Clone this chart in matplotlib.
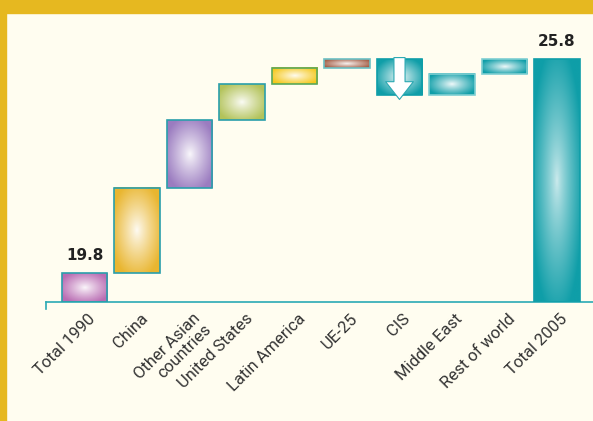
import numpy as np
import matplotlib
matplotlib.use("Agg")
import matplotlib.pyplot as plt
import matplotlib.colors as mcolors
import matplotlib.transforms as mtransforms
from matplotlib.patches import Rectangle

# waterfall data
labels = ["Total 1990", "China", "Other Asian\ncountries", "United States",
          "Latin America", "UE-25", "CIS", "Middle East", "Rest of world",
          "Total 2005"]
start_total = 19.8
changes = [2.4, 1.9, 1.0, 0.45, 0.25, -1.0, 0.6, 0.4]
end_total = 25.8
base = 19.0

colors = ["#b96cb3", "#e9b630", "#9b7cc0", "#b3c35a", "#f5c81c", "#a55f48",
          "#0f9ea8", "#0f9ea8", "#0f9ea8", "#0f9ea8"]
edges = ["#2a9fab", "#2a9fab", "#2a9fab", "#2a9fab", "#5aa85a", "#6cc0c4",
         "#0f9ea8", "#7fcfd2", "#7fcfd2", "#0f9ea8"]
teal = "#2aaab4"
bg = "#fffdf0"
gold = "#e6b820"

# bottoms and tops for each bar
bottoms = [base]
tops = [start_total]
level = start_total
for c in changes:
    bottoms.append(min(level, level + c))
    tops.append(max(level, level + c))
    level += c
bottoms.append(base)
tops.append(end_total)

fig = plt.figure(figsize=(5.93, 4.21), dpi=100)
fig.patch.set_facecolor(bg)
fig.patches.append(Rectangle((0, 1 - 13 / 421), 1, 13 / 421, transform=fig.transFigure,
                             color=gold, zorder=0))
fig.patches.append(Rectangle((0, 0), 6 / 593, 1, transform=fig.transFigure,
                             color=gold, zorder=0))

ax = fig.add_axes([46 / 593, (421 - 302) / 421, (593 - 46) / 593, (302 - 13) / 421])
ax.set_facecolor("none")
px = 52.5
ax.set_xlim(-(84.5 - 46) / px, (593 - 84.5) / px)
ax.set_ylim(base, base + (302 - 13) / 35.67)
for s in ["top", "left", "right"]:
    ax.spines[s].set_visible(False)
ax.spines["bottom"].set_color(teal)
ax.spines["bottom"].set_linewidth(1.2)
ax.set_xticks([])
ax.set_yticks([])
# little tick at the left end of the axis
ax.plot([0, 0], [0, -0.025], color=teal, lw=1.2, transform=ax.transAxes, clip_on=False)

# radial gradient template
n = 200
gx, gy = np.meshgrid(np.linspace(-1, 1, n), np.linspace(-1, 1, n))
r = np.clip(np.sqrt(gx ** 2 + gy ** 2) / 1.15, 0, 1)
t = 0.05 + 0.95 * r ** 0.9

w = 0.86
for i in range(len(labels)):
    rgb = np.array(mcolors.to_rgb(colors[i]))
    tt = t if i < 9 else 0.2 + 0.8 * r ** 0.8
    img = (1 - tt)[..., None] * np.ones(3) + tt[..., None] * rgb
    ax.imshow(img, extent=(i - w / 2, i + w / 2, bottoms[i], tops[i]),
              aspect="auto", interpolation="bilinear", zorder=2)
    ax.add_patch(Rectangle((i - w / 2, bottoms[i]), w, tops[i] - bottoms[i],
                           fill=False, ec=edges[i], lw=1.2, zorder=3))

# arrow on CIS bar
ci = 6
ax.annotate("", xy=(ci, bottoms[ci] - 0.2), xytext=(ci, tops[ci] + 0.13),
            arrowprops=dict(arrowstyle="simple,head_length=0.8,head_width=1.25,tail_width=0.5",
                            fc="white", ec="#2aa8b2", lw=0.8, mutation_scale=16),
            zorder=5)

# value labels
ax.text(0, tops[0] + 0.3, f"{start_total:.1f}", ha="center", va="bottom",
        fontsize=11, fontweight="bold", color="#222222")
ax.text(9, tops[9] + 0.3, f"{end_total:.1f}", ha="center", va="bottom",
        fontsize=11, fontweight="bold", color="#222222")

# rotated category labels
off = mtransforms.offset_copy(ax.get_xaxis_transform(), fig=fig, x=3, y=-9, units="dots")
for i, lab in enumerate(labels):
    ax.text(i, 0, lab, transform=off, rotation=45, rotation_mode="anchor",
            ha="right", va="top", fontsize=12, color="#333333", family="Roboto",
            multialignment="right", linespacing=1.0)

fig.savefig("out.png", dpi=100, facecolor=bg)
